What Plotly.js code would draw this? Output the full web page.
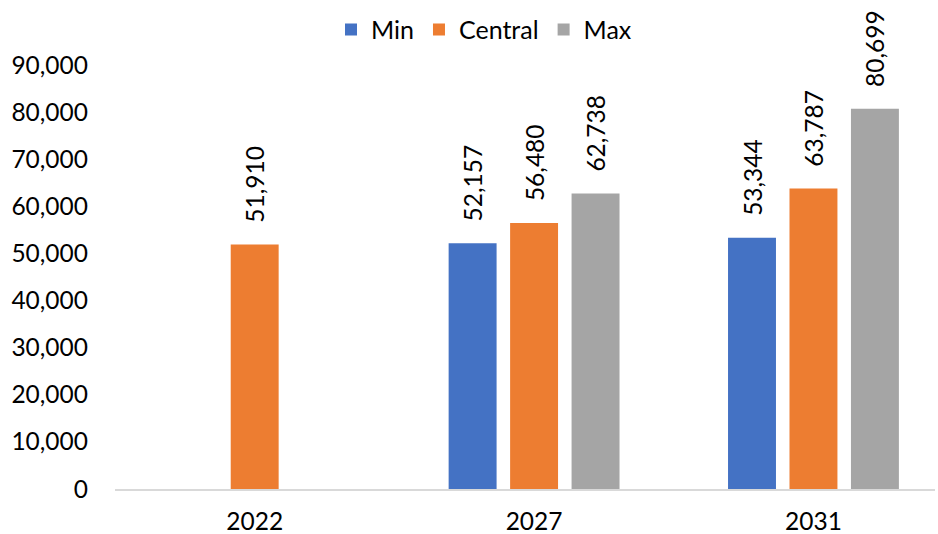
<!DOCTYPE html>
<html>
<head>
<meta charset="utf-8">
<script src="https://cdn.plot.ly/plotly-3.0.1.min.js"></script>
<style>html,body{margin:0;padding:0;background:#fff;}#chart{width:938px;height:534px;}</style>
</head>
<body>
<div id="chart"></div>
<script>
const years = ['2022', '2027', '2031'];
const minVals = [null, 52157, 53344];
const centralVals = [51910, 56480, 63787];
const maxVals = [null, 62738, 80699];
const seriesNames = ['Min', 'Central', 'Max'];
const seriesColors = ['#4472C4', '#ED7D31', '#A5A5A5'];
const yTicks = [0, 10000, 20000, 30000, 40000, 50000, 60000, 70000, 80000, 90000];

const FONT = 'Lato, "Open Sans", "Liberation Sans", sans-serif';
const PAD = '\u00a0\u00a0\u00a0';
const fmt = v => v == null ? '' : PAD + v.toLocaleString('en-US');

const traces = [minVals, centralVals, maxVals].map((vals, i) => ({
  type: 'bar',
  name: seriesNames[i],
  x: years,
  y: vals,
  marker: {color: seriesColors[i]},
  text: vals.map(fmt),
  textposition: 'outside',
  textangle: -90,
  constraintext: 'none',
  cliponaxis: false,
  textfont: {family: FONT, size: 24.5, color: '#000'},
  hoverinfo: 'skip'
}));

const layout = {
  width: 938, height: 534,
  margin: {l: 115, r: 3, t: 65, b: 45},
  paper_bgcolor: '#fff', plot_bgcolor: '#fff',
  barmode: 'group',
  bargap: 0.34,
  bargroupgap: 0.22,
  font: {family: FONT, size: 24.5, color: '#000'},
  showlegend: true,
  legend: {orientation: 'h', x: 0.45, xanchor: 'center', y: 1.083, yanchor: 'middle',
           font: {family: FONT, size: 25, color: '#000'}, itemclick: false, traceorder: 'normal'},
  xaxis: {
    type: 'category',
    range: [-0.5, 2.435],
    showline: true, linecolor: '#D9D9D9', linewidth: 1.5,
    showgrid: false, ticks: '', ticklabelstandoff: 10,
    tickfont: {family: FONT, size: 24.5, color: '#000'},
    zeroline: false
  },
  yaxis: {
    range: [0, 90000],
    tickvals: yTicks,
    ticktext: yTicks.map(v => v.toLocaleString('en-US')),
    showgrid: false, showline: false, zeroline: false, ticks: '',
    ticklabelstandoff: 26,
    tickfont: {family: FONT, size: 24.5, color: '#000'}
  }
};

Plotly.newPlot('chart', traces, layout, {displayModeBar: false, staticPlot: true});
</script>
</body>
</html>
